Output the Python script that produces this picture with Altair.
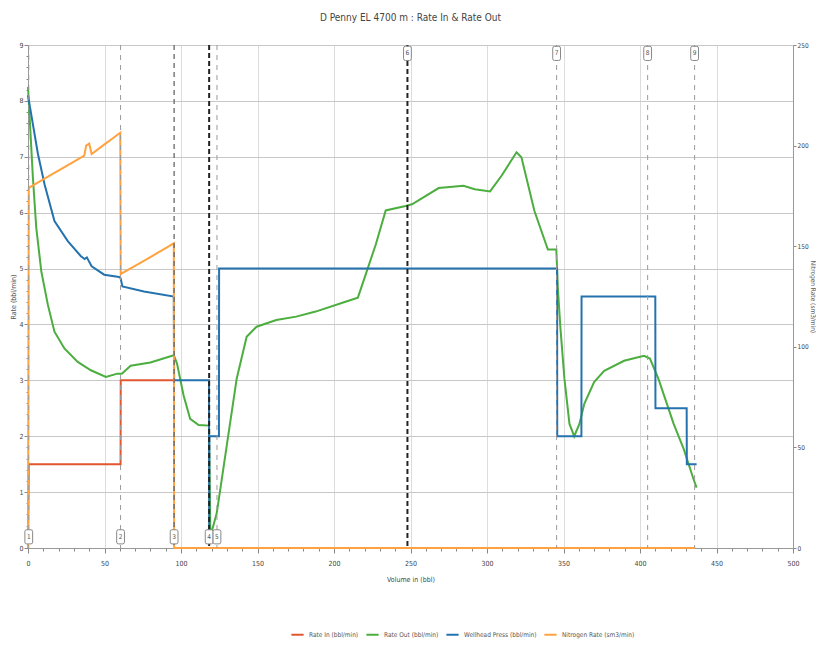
import altair as alt
import pandas as pd

# ---------------- data ----------------
names = ["Rate In (bbl/min)", "Rate Out (bbl/min)", "Wellhead Press (bbl/min)", "Nitrogen Rate (sm3/min)"]
colors = ["#E2572F", "#4BAE3E", "#2573AE", "#FFA23F"]

red_x = [0, 0.5, 60.5, 60.6, 95.5]
red_y = [0, 1.5, 1.5, 3.0, 3.0]

green_x = [0, 3.2, 5.4, 8.7, 13, 17.3, 23.8, 32.5, 41.1, 50.9, 58.4, 61.3, 67.1, 80, 95.3, 97.4,
           101.7, 106, 111.5, 118.3, 119.2, 123.4, 129.9, 136.4, 142.9, 149.4, 162.3, 175.3, 188,
           208, 215.6, 222, 227.3, 233.8, 246.8, 251, 268.4, 284.6, 292, 302, 309.5, 319.3, 322.5,
           331, 339.8, 345.3, 346.3, 348, 350.6, 353.9, 357, 360.4, 363.6, 370, 376.6, 389.6, 402.6,
           406.5, 412, 422, 428.6, 435, 437]
green_y = [8.25, 6.63, 5.73, 4.95, 4.35, 3.87, 3.57, 3.33, 3.18, 3.06, 3.12, 3.12, 3.26, 3.32, 3.45, 3.30,
           2.73, 2.31, 2.20, 2.19, 0.2, 0.63, 1.83, 3.03, 3.78, 3.96, 4.08, 4.14, 4.23,
           4.41, 4.48, 5.0, 5.43, 6.04, 6.12, 6.15, 6.44, 6.48, 6.42, 6.38, 6.66, 7.08, 6.99,
           6.03, 5.34, 5.34, 4.65, 3.93, 3.03, 2.22, 2.0, 2.22, 2.58, 2.97, 3.17, 3.35, 3.44,
           3.39, 3.03, 2.22, 1.77, 1.23, 1.08]

blue_x = [0, 6.5, 10.8, 17.3, 26, 34.6, 37, 38.5, 40, 41.6, 49.8, 59.5, 60.5, 61.7, 75.8, 95.3, 95.5,
          118.3, 118.4, 118.5, 124.8, 124.9, 345.8, 345.9, 361.7, 361.8, 410, 410.1, 430.5, 430.6, 437]
blue_y = [8.1, 7.05, 6.51, 5.85, 5.49, 5.22, 5.17, 5.20, 5.12, 5.04, 4.89, 4.85, 4.83, 4.68, 4.59, 4.50, 3.0,
          3.0, 0.1, 2.0, 2.0, 5.0, 5.0, 2.0, 2.0, 4.5, 4.5, 2.5, 2.5, 1.5, 1.5]

orange_x = [0, 0.5, 15, 25, 36.8, 38, 40, 41.6, 50, 55, 60.3, 60.6, 70, 80, 90, 95.3, 95.5, 436]
orange_y = [0, 179, 185.4, 189.8, 195, 200, 201, 195.8, 200.6, 203.4, 206.4, 136.2, 140.2, 144.6, 149,
            151.4, 0, 0]

event_x = [0.5, 60.5, 95.5, 118.4, 123.5, 248, 345.5, 405, 435.7]
event_kind = ["minor", "minor", "mid", "major", "minor", "major", "minor", "minor", "minor"]
event_label = ["1", "2", "3", "4", "5", "6", "7", "8", "9"]
event_side = ["bottom", "bottom", "bottom", "bottom", "bottom", "top", "top", "top", "top"]

# ---------------- frames ----------------
def frame(xs, ys, name):
    return pd.DataFrame({"x": xs, "y": ys, "series": name, "idx": range(len(xs))})

left_df = pd.concat([frame(red_x, red_y, names[0]),
                     frame(green_x, green_y, names[1]),
                     frame(blue_x, blue_y, names[2])], ignore_index=True)
right_df = frame(orange_x, orange_y, names[3])

ev = pd.DataFrame({"x": event_x, "kind": event_kind, "label": event_label, "side": event_side})
ev["level"] = ev["side"].map({"bottom": 0.2, "top": 8.85})

FONT = "DejaVu Sans Condensed, Liberation Sans Narrow, Roboto, Liberation Sans, sans-serif"
x_scale = alt.Scale(domain=[0, 500], nice=False, zero=False)
yl_scale = alt.Scale(domain=[0, 9], nice=False)
yr_scale = alt.Scale(domain=[0, 250], nice=False)

color = alt.Color("series:N", scale=alt.Scale(domain=names, range=colors),
                  legend=alt.Legend(title=None, orient="none", legendX=262, legendY=582,
                                    direction="horizontal", symbolType="stroke",
                                    symbolStrokeWidth=2, symbolSize=150, labelFontSize=6.5,
                                    labelFont=FONT, labelColor="#555", columnPadding=3))

x_axis = alt.Axis(values=list(range(0, 501, 10)), labelOverlap=False, labelFlush=False,
                  labelExpr="datum.value % 50 === 0 ? datum.label : ''",
                  tickSize={"condition": {"test": "datum.value % 50 === 0", "value": 5}, "value": 3},
                  gridOpacity={"condition": {"test": "datum.value % 50 === 0", "value": 1}, "value": 0},
                  gridColor="#dcdcdc", domainColor="#999", tickColor="#888",
                  labelFontSize=7, titleFontSize=7, labelFont=FONT, titleFont=FONT,
                  labelColor="#444", titleColor="#444", titleFontWeight="normal", labelPadding=6,
                  titlePadding=9)
x_enc = alt.X("x:Q", scale=x_scale, axis=x_axis, title="Volume in (bbl)")

int_test = "abs(datum.value - round(datum.value)) < 0.01"
yl_axis = alt.Axis(values=[round(i * 0.2, 1) for i in range(46)], orient="left", labelOverlap=False,
                   labelExpr=int_test + " ? format(datum.value, 'd') : ''",
                   tickSize={"condition": {"test": int_test, "value": 4}, "value": 2},
                   gridOpacity={"condition": {"test": int_test, "value": 1}, "value": 0},
                   gridColor="#c8c8c8", domainColor="#999", tickColor="#888",
                   labelFontSize=7, titleFontSize=7, labelFont=FONT, titleFont=FONT,
                   labelColor="#444", titleColor="#555", titleFontWeight="normal",
                   labelPadding=1, titlePadding=2)

yr_axis = alt.Axis(values=[0, 50, 100, 150, 200, 250], orient="right", grid=False, labelOverlap=False,
                   tickSize=3, domainColor="#999", tickColor="#888",
                   labelFontSize=6.5, titleFontSize=6.5, labelFont=FONT, titleFont=FONT,
                   labelColor="#444", titleColor="#555", titleFontWeight="normal",
                   labelPadding=1, titlePadding=1)

left_lines = alt.Chart(left_df).mark_line(strokeWidth=2).encode(
    x=x_enc,
    y=alt.Y("y:Q", scale=yl_scale, axis=yl_axis, title="Rate (bbl/min)"),
    color=color, detail="series:N", order=alt.Order("idx:Q"))

right_lines = alt.Chart(right_df).mark_line(strokeWidth=2).encode(
    x=x_enc,
    y=alt.Y("y:Q", scale=yr_scale, axis=yr_axis, title="Nitrogen Rate (sm3/min)"),
    color=color, order=alt.Order("idx:Q"))

rule_minor = alt.Chart(ev).transform_filter("datum.kind === 'minor'").mark_rule(
    color="#9a9a9a", strokeDash=[5, 5], strokeWidth=1).encode(x=x_enc)
rule_mid = alt.Chart(ev).transform_filter("datum.kind === 'mid'").mark_rule(
    color="#666", strokeDash=[5, 4], strokeWidth=1.3).encode(x=x_enc)
rule_major = alt.Chart(ev).transform_filter("datum.kind === 'major'").mark_rule(
    color="#222", strokeDash=[5, 3], strokeWidth=2).encode(x=x_enc)

rr = "M-0.55,-0.75 Q-0.55,-1 -0.3,-1 L0.3,-1 Q0.55,-1 0.55,-0.75 L0.55,0.75 Q0.55,1 0.3,1 L-0.3,1 Q-0.55,1 -0.55,0.75 Z"
badge = alt.Chart(ev).mark_point(shape=rr, filled=True, fill="white", stroke="#888",
                                 strokeWidth=1, size=200, opacity=1).encode(
    x=x_enc,
    y=alt.Y("level:Q", scale=yl_scale, axis=None))
badge_text = alt.Chart(ev).mark_text(fontSize=6.5, font=FONT, color="#555").encode(
    x=x_enc,
    y=alt.Y("level:Q", scale=yl_scale, axis=None),
    text="label:N")

chart = alt.layer(left_lines, right_lines, rule_minor, rule_mid, rule_major, badge, badge_text).resolve_scale(
    y="independent"
).properties(
    width=765, height=503,
    title=alt.Title("D Penny EL 4700 m : Rate In & Rate Out", fontSize=10, fontWeight="normal",
                    font=FONT, color="#444", offset=18, anchor="middle"),
    padding={"left": 1, "top": 5, "right": 0, "bottom": 0}
).configure_view(stroke=None)

chart.save("out.html", embed_options={"renderer": "svg", "actions": False})
